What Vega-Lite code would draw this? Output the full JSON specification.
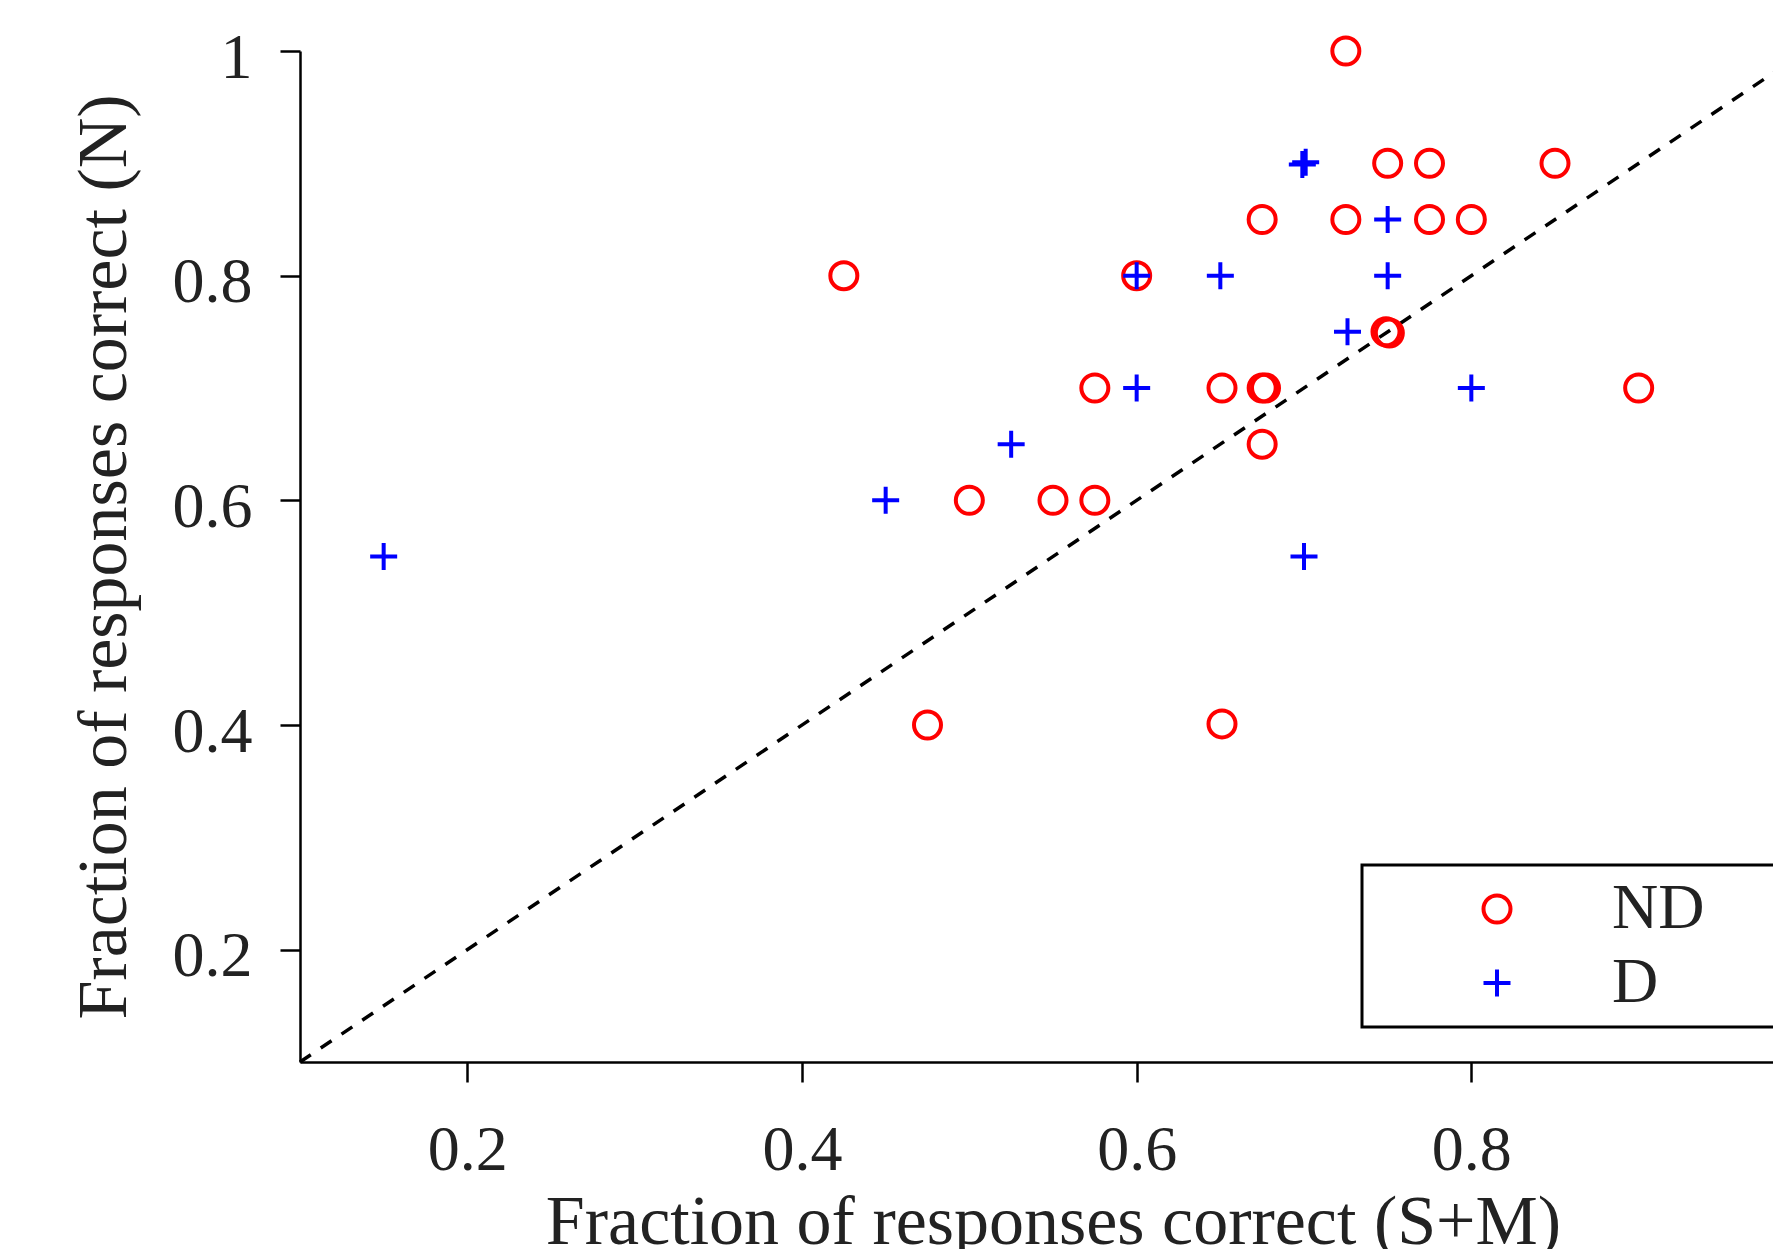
{
  "$schema": "https://vega.github.io/schema/vega-lite/v6.json",
  "autosize": {"type": "none"},
  "padding": {"left": 300, "top": 51, "right": 0, "bottom": 187},
  "width": 1506,
  "height": 1011,
  "background": "white",
  "datasets": {
    "diag": [{"x": 0.1, "y": 0.1}, {"x": 1.0, "y": 1.0}],
    "obs": [
      {"group": "ND", "sm": 0.725, "n": 1.0},
      {"group": "ND", "sm": 0.75, "n": 0.9},
      {"group": "ND", "sm": 0.775, "n": 0.9},
      {"group": "ND", "sm": 0.85, "n": 0.9},
      {"group": "ND", "sm": 0.675, "n": 0.85},
      {"group": "ND", "sm": 0.725, "n": 0.85},
      {"group": "ND", "sm": 0.775, "n": 0.85},
      {"group": "ND", "sm": 0.8, "n": 0.85},
      {"group": "ND", "sm": 0.425, "n": 0.8},
      {"group": "ND", "sm": 0.6, "n": 0.8},
      {"group": "ND", "sm": 0.749, "n": 0.75},
      {"group": "ND", "sm": 0.751, "n": 0.749},
      {"group": "ND", "sm": 0.575, "n": 0.7},
      {"group": "ND", "sm": 0.651, "n": 0.7},
      {"group": "ND", "sm": 0.675, "n": 0.7},
      {"group": "ND", "sm": 0.677, "n": 0.7},
      {"group": "ND", "sm": 0.9, "n": 0.7},
      {"group": "ND", "sm": 0.675, "n": 0.65},
      {"group": "ND", "sm": 0.5, "n": 0.6},
      {"group": "ND", "sm": 0.55, "n": 0.6},
      {"group": "ND", "sm": 0.575, "n": 0.6},
      {"group": "ND", "sm": 0.475, "n": 0.4},
      {"group": "ND", "sm": 0.651, "n": 0.401},
      {"group": "D", "sm": 0.699, "n": 0.899},
      {"group": "D", "sm": 0.701, "n": 0.901},
      {"group": "D", "sm": 0.75, "n": 0.85},
      {"group": "D", "sm": 0.6, "n": 0.8},
      {"group": "D", "sm": 0.65, "n": 0.8},
      {"group": "D", "sm": 0.75, "n": 0.8},
      {"group": "D", "sm": 0.726, "n": 0.75},
      {"group": "D", "sm": 0.6, "n": 0.7},
      {"group": "D", "sm": 0.8, "n": 0.7},
      {"group": "D", "sm": 0.525, "n": 0.65},
      {"group": "D", "sm": 0.45, "n": 0.6},
      {"group": "D", "sm": 0.7, "n": 0.55},
      {"group": "D", "sm": 0.15, "n": 0.55}
    ]
  },
  "layer": [
    {
      "data": {"name": "diag"},
      "mark": {"type": "line", "color": "black", "strokeWidth": 3.5, "strokeDash": [13, 12], "clip": false},
      "encoding": {
        "x": {"field": "x", "type": "quantitative"},
        "y": {"field": "y", "type": "quantitative"}
      }
    },
    {
      "data": {"name": "obs"},
      "mark": {"type": "point", "filled": false, "strokeWidth": 4, "size": 729, "opacity": 1},
      "encoding": {
        "x": {
          "field": "sm", "type": "quantitative",
          "scale": {"domain": [0.1, 1.0], "nice": false, "zero": false},
          "axis": {"title": "Fraction of responses correct (S+M)", "values": [0.2, 0.4, 0.6, 0.8, 1.0], "format": "~g", "titlePadding": 6}
        },
        "y": {
          "field": "n", "type": "quantitative",
          "scale": {"domain": [0.1, 1.0], "nice": false, "zero": false},
          "axis": {"title": "Fraction of responses correct (N)", "values": [0.2, 0.4, 0.6, 0.8, 1.0], "format": "~g", "titlePadding": 32, "labelOffset": 7, "labelPadding": 28}
        },
        "color": {
          "field": "group", "type": "nominal",
          "scale": {"domain": ["ND", "D"], "range": ["#ff0000", "#0000ff"]},
          "legend": {"title": "\u00a0", "titleOrient": "right", "titlePadding": 80}
        },
        "shape": {
          "field": "group", "type": "nominal",
          "scale": {"domain": ["ND", "D"], "range": ["circle", "M-1,0H1M0,-1V1"]},
          "legend": {"title": "\u00a0", "titleOrient": "right", "titlePadding": 80}
        },
        "order": {"field": "group", "sort": "descending"}
      }
    }
  ],
  "config": {
    "view": {"stroke": null},
    "axis": {
      "grid": false,
      "domainColor": "black",
      "domainWidth": 2.5,
      "tickColor": "black",
      "tickWidth": 2.5,
      "tickSize": 20,
      "labelFont": "Liberation Serif",
      "labelFontSize": 64,
      "labelColor": "#222222",
      "labelPadding": 36,
      "labelFlush": false,
      "labelOverlap": false,
      "titleFont": "Liberation Serif",
      "titleFontSize": 70,
      "titleFontWeight": "normal",
      "titleColor": "#222222"
    },
    "legend": {
      "orient": "none",
      "legendX": 1062,
      "legendY": 814,
      "padding": 12,
      "rowPadding": 10,
      "strokeColor": "black",
      "strokeWidth": 3,
      "fillColor": "white",
      "symbolSize": 729,
      "symbolStrokeWidth": 4,
      "symbolOffset": 91,
      "labelOffset": 83,
      "labelFont": "Liberation Serif",
      "labelFontSize": 64,
      "labelColor": "#222222",
      "titleFont": "Liberation Serif",
      "titleFontSize": 64
    }
  }
}
